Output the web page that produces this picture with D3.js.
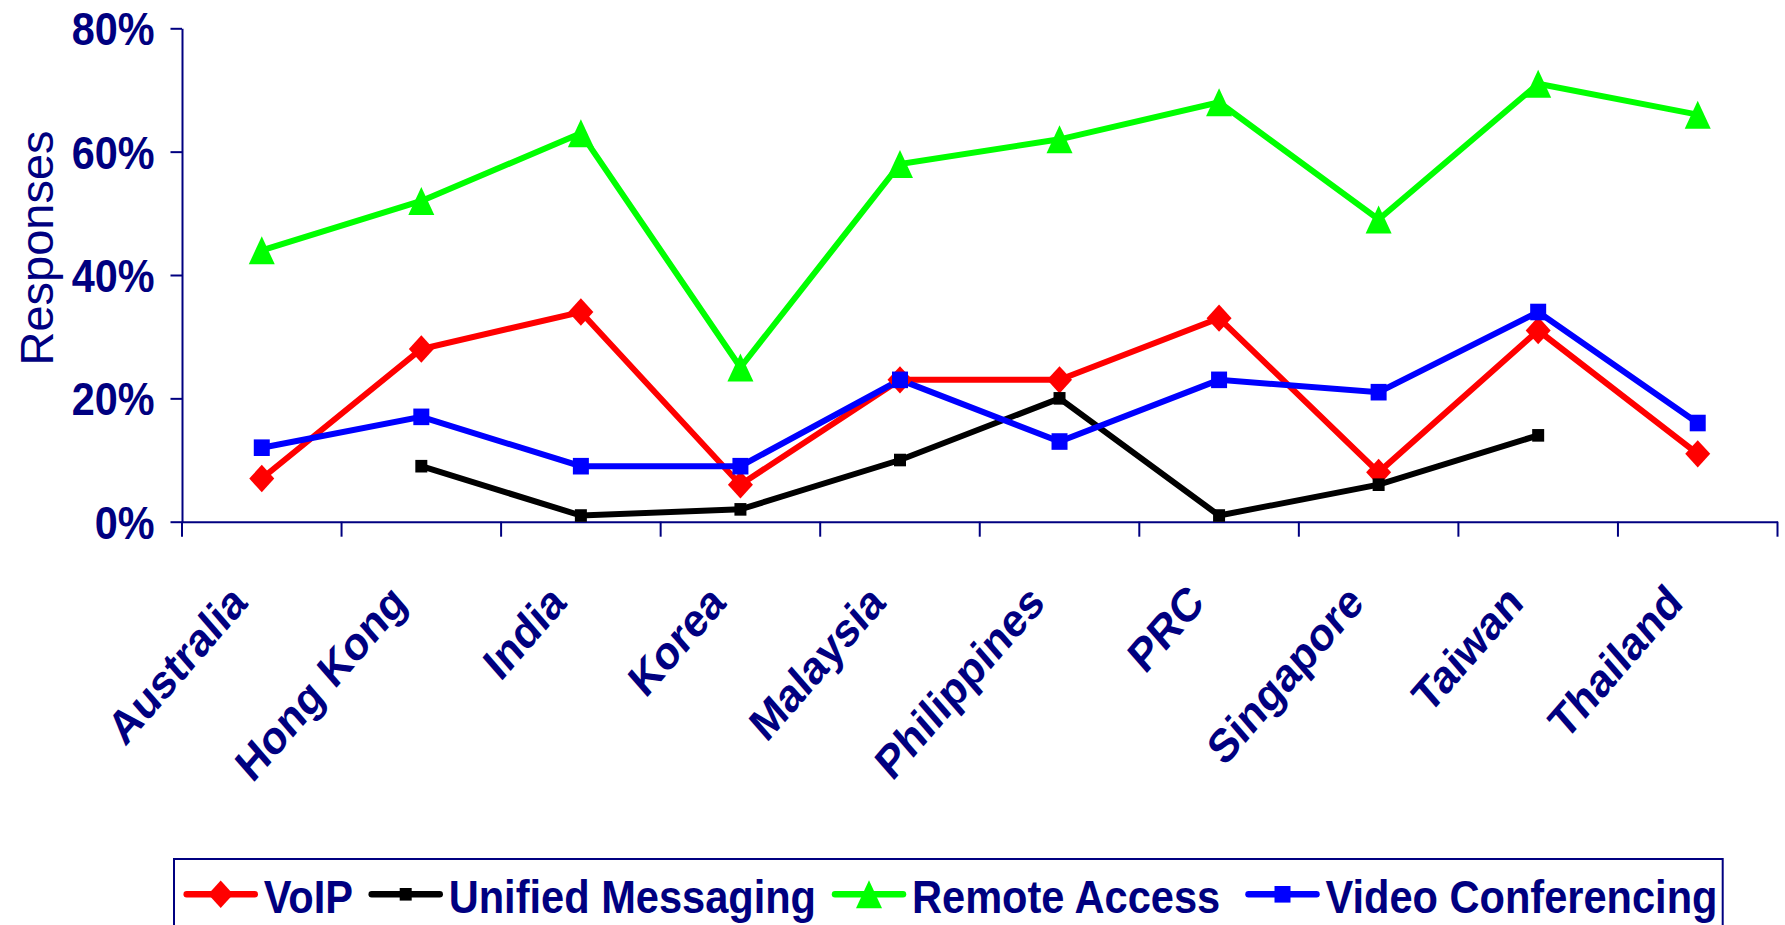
<!DOCTYPE html>
<html>
<head>
<meta charset="utf-8">
<script src="https://cdn.jsdelivr.net/npm/d3@7"></script>
<style>
  html, body { margin: 0; padding: 0; background: #ffffff; overflow: hidden; }
  svg { display: block; }
  text { font-family: "Liberation Sans", Arial, sans-serif; fill: #000080; }
</style>
</head>
<body>
<svg id="chart" width="1785" height="925"></svg>
<script>
// ---------------- data ----------------
const categories = ["Australia", "Hong Kong", "India", "Korea", "Malaysia",
                    "Philippines", "PRC", "Singapore", "Taiwan", "Thailand"];
const seriesNames = ["VoIP", "Unified Messaging", "Remote Access", "Video Conferencing"];
const voip          = [7, 28, 34, 6, 23, 23, 33, 8, 31, 11];
const unifiedMsg    = [null, 9, 1, 2, 10, 20, 1, 6, 14, null];
const remoteAccess  = [44, 52, 63, 25, 58, 62, 68, 49, 71, 66];
const videoConf     = [12, 17, 9, 9, 23, 13, 23, 21, 34, 16];
const yTickValues   = [0, 20, 40, 60, 80];
const yTitle = "Responses";

// ---------------- layout / style ----------------
const W = 1785, H = 925;
const plot = { left: 182, right: 1777.5, top: 28.3, bottom: 521.7 };
const navy = "#000080";
const sx = 0.87;   // horizontal squeeze of the text
const styles = [
  { color: "#ff0000", marker: "diamond" },
  { color: "#000000", marker: "smallsquare" },
  { color: "#00ff00", marker: "triangle" },
  { color: "#0000ff", marker: "square" }
];
const legendX = [186.7, 371.7, 835, 1248.5];

const series = [voip, unifiedMsg, remoteAccess, videoConf].map((vals, i) => ({
  name: seriesNames[i], values: vals, ...styles[i]
}));

const svg = d3.select("#chart");

const x = d3.scaleBand().domain(categories).range([plot.left, plot.right]).padding(0);
const y = d3.scaleLinear().domain([0, 80]).range([plot.bottom, plot.top]);
const cx = c => x(c) + x.bandwidth() / 2;

// marker paths centered at 0,0
function markerPath(type) {
  const p = d3.path();
  if (type === "diamond") {
    const a = 12.5, b = 13.7;
    p.moveTo(0, -b); p.lineTo(a, 0); p.lineTo(0, b); p.lineTo(-a, 0); p.closePath();
  } else if (type === "triangle") {
    const w = 13, h = 14;
    p.moveTo(0, -h); p.lineTo(w, h); p.lineTo(-w, h); p.closePath();
  } else if (type === "square") {
    p.rect(-8, -8.3, 16, 16.6);
  } else {
    p.rect(-6, -6.3, 12, 12.6);
  }
  return p.toString();
}

// ---------------- axes ----------------
const yAxis = d3.axisLeft(y)
  .tickValues(yTickValues)
  .tickSize(11.5)
  .tickSizeOuter(0)
  .tickFormat(d => d + "%");

const gy = svg.append("g").attr("transform", `translate(${plot.left},0)`).call(yAxis);
gy.select(".domain").attr("stroke", navy).attr("stroke-width", 2);
gy.selectAll(".tick line").attr("stroke", navy).attr("stroke-width", 2);
gy.selectAll(".tick text")
  .attr("x", null).attr("dy", "0.36em")
  .attr("transform", `translate(-27.5,0) scale(${sx + 0.03},1)`)
  .style("font-family", '"Liberation Sans", Arial, sans-serif')
  .style("font-size", "46px").style("font-weight", "bold")
  .attr("fill", navy);

const xAxis = d3.axisBottom(x).tickSize(0).tickSizeOuter(0).tickFormat("");
const gx = svg.append("g").attr("transform", `translate(0,${plot.bottom})`).call(xAxis);
gx.select(".domain").attr("stroke", navy).attr("stroke-width", 2);
gx.selectAll(".tick").remove();

// category boundary ticks
const bounds = categories.map(c => x(c)).concat([x(categories[categories.length - 1]) + x.bandwidth()]);
svg.append("g").selectAll("line").data(bounds).join("line")
  .attr("x1", d => d).attr("x2", d => d)
  .attr("y1", plot.bottom).attr("y2", plot.bottom + 15)
  .attr("stroke", navy).attr("stroke-width", 2);

// category labels
svg.append("g").selectAll("text").data(categories).join("text")
  .attr("text-anchor", "end")
  .attr("transform", d => `translate(${cx(d) - 13},605) scale(${sx},1) rotate(-45)`)
  .style("font-size", "47px").style("font-weight", "bold")
  .text(d => d);

// y title
svg.append("text")
  .attr("text-anchor", "middle")
  .attr("transform", "translate(53,248) rotate(-90)")
  .style("font-size", "47px")
  .text(yTitle);

// ---------------- lines ----------------
const line = d3.line()
  .defined(d => d.v != null)
  .x(d => cx(d.c))
  .y(d => y(d.v));

const plotG = svg.append("g");
series.forEach(s => {
  const pts = categories.map((c, i) => ({ c, v: s.values[i] }));
  plotG.append("path")
    .datum(pts)
    .attr("d", line)
    .attr("fill", "none")
    .attr("stroke", s.color)
    .attr("stroke-width", 6)
    .attr("stroke-linejoin", "miter");
});
series.forEach(s => {
  const pts = categories.map((c, i) => ({ c, v: s.values[i] })).filter(d => d.v != null);
  plotG.append("g").selectAll("path").data(pts).join("path")
    .attr("d", markerPath(s.marker))
    .attr("transform", d => `translate(${cx(d.c)},${y(d.v)})`)
    .attr("fill", s.color);
});

// ---------------- legend ----------------
svg.append("rect")
  .attr("x", 174).attr("y", 859)
  .attr("width", 1722.7 - 174).attr("height", 120)
  .attr("fill", "none").attr("stroke", navy).attr("stroke-width", 2);

const legY = 894.3;
const lg = svg.append("g").selectAll("g").data(series).join("g")
  .attr("transform", (d, i) => `translate(${legendX[i]},${legY})`);
lg.append("line")
  .attr("x1", 0).attr("x2", 68).attr("y1", 0).attr("y2", 0)
  .attr("stroke", d => d.color).attr("stroke-width", 6.5).attr("stroke-linecap", "round");
lg.append("path")
  .attr("d", d => markerPath(d.marker))
  .attr("transform", "translate(34,0)")
  .attr("fill", d => d.color);
lg.append("text")
  .attr("transform", `translate(77,18.4) scale(0.885,1)`)
  .style("font-size", "47px").style("font-weight", "bold")
  .text(d => d.name);
</script>
</body>
</html>
